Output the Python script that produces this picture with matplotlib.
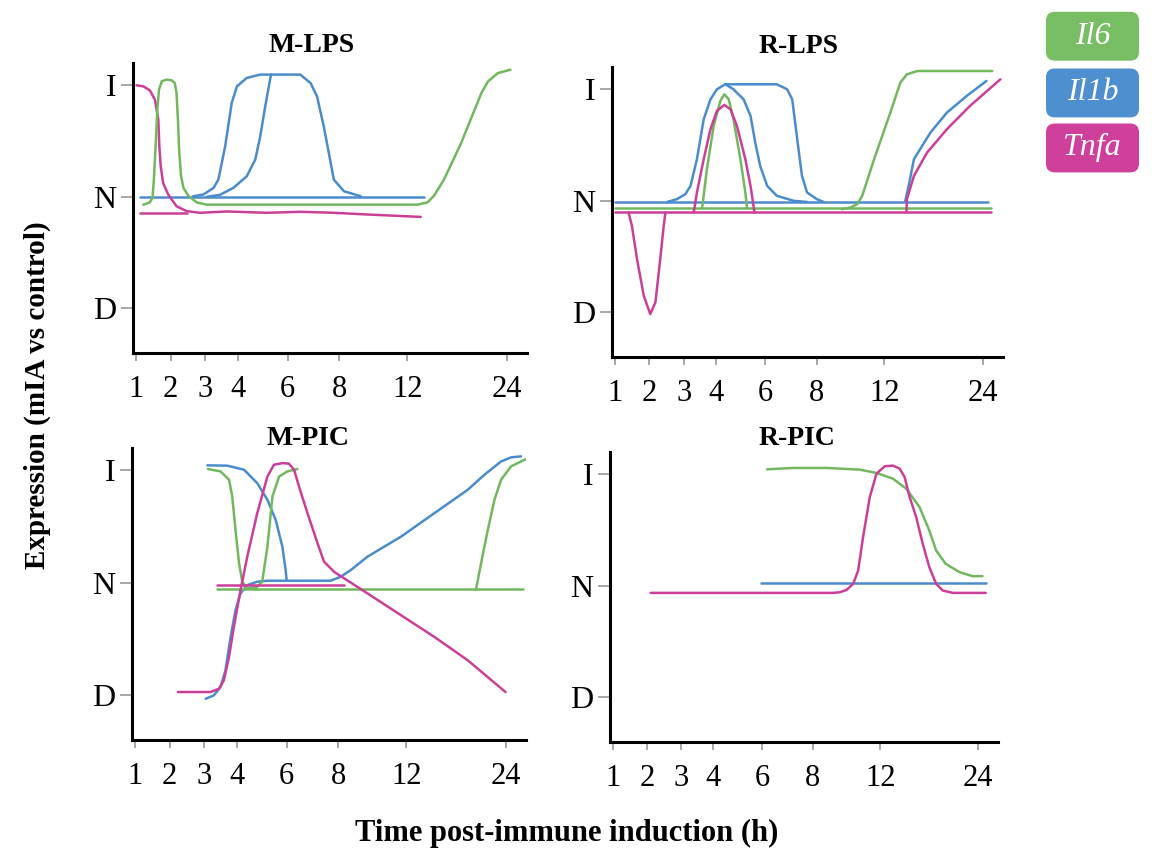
import numpy as np
import matplotlib.pyplot as plt
from matplotlib.patches import FancyBboxPatch

plt.rcParams['font.family'] = ['Liberation Serif', 'DejaVu Serif']

GREEN = '#72b85f'
BLUE = '#4a8ccc'
PINK = '#cc3f98'

HOURS = [1, 2, 3, 4, 6, 8, 12, 24]
LEVELS = [-1, 0, 1]
LEVEL_LABELS = ['D', 'N', 'I']
GENES = ['Il6', 'Il1b', 'Tnfa']

# the time axis of the schematic is not linear, this is its spacing
SCALE_H = [0, 1, 2, 3, 4, 6, 8, 12, 24, 48]
SCALE_P = [-1, 0, 1, 2.02, 2.97, 4.43, 5.94, 7.94, 10.86, 16.7]

# ---- M-LPS ----
mlps_il6_x = [1.2, 1.39, 1.47, 1.51, 1.56, 1.61, 1.66, 1.74, 1.88, 2.03, 2.12, 2.17, 2.21, 2.25, 2.30,
              2.37, 2.51, 2.75, 3.04, 13.2, 14.4, 15.2, 16.4, 18.45, 20.9, 21.7, 22.9, 24.4]
mlps_il6_y = [-0.07, -0.05, -0.009, 0.155, 0.454, 0.782, 0.961, 1.036, 1.051, 1.045, 1.021, 0.931, 0.693,
              0.394, 0.185, 0.08, 0.01, -0.05, -0.07, -0.07, -0.05, 0.01, 0.155, 0.48, 0.93, 1.035, 1.11,
              1.14]
mlps_il1b_base_x = [1.1, 14.0]
mlps_il1b_base_y = [0, 0]
mlps_il1b_a_x = [2.65, 2.94, 3.25, 3.40, 3.61, 3.81, 3.97, 4.36, 4.90, 5.44, 6.49, 6.89, 7.14, 7.40, 7.67,
                 7.79, 8.28, 9.26]
mlps_il1b_a_y = [0.006, 0.021, 0.08, 0.155, 0.454, 0.84, 0.99, 1.066, 1.096, 1.096, 1.096, 1.02, 0.90, 0.633,
                 0.304, 0.155, 0.05, 0.006]
mlps_il1b_b_x = [3.04, 3.45, 3.86, 4.36, 4.70, 4.90, 5.10, 5.33]
mlps_il1b_b_y = [0, 0.018, 0.08, 0.185, 0.334, 0.543, 0.812, 1.096]
mlps_tnfa_base_x = [1.1, 2.46]
mlps_tnfa_base_y = [-0.143, -0.143]
mlps_tnfa_x = [1.0, 1.2, 1.39, 1.54, 1.64, 1.67, 1.71, 1.78, 1.93, 2.17, 2.46, 2.84, 3.66, 5.16, 6.49,
               7.79, 9.64, 13.6]
mlps_tnfa_y = [1.0, 0.991, 0.955, 0.872, 0.693, 0.454, 0.275, 0.125, 0.021, -0.084, -0.128, -0.143, -0.131,
               -0.143, -0.134, -0.143, -0.158, -0.18]

# ---- R-LPS ----
rlps_il1b_base_x = [1.0, 24.6]
rlps_il1b_base_y = [-0.01, -0.01]
rlps_il1b_wide_x = [2.52, 2.80, 3.05, 3.21, 3.41, 3.62, 3.83, 4.04, 4.38, 4.85, 6.45, 6.85, 7.05, 7.23,
                    7.43, 7.63, 8.02, 8.42]
rlps_il1b_wide_y = [-0.01, 0.015, 0.06, 0.134, 0.373, 0.731, 0.91, 1.0, 1.045, 1.045, 1.045, 1.0, 0.91,
                    0.582, 0.224, 0.075, 0.015, -0.01]
rlps_il1b_narrow_x = [4.38, 4.71, 5.12, 5.40, 5.59, 5.79, 6.07, 6.45, 7.11, 7.63]
rlps_il1b_narrow_y = [1.045, 1.0, 0.91, 0.761, 0.522, 0.313, 0.134, 0.045, 0, -0.01]
rlps_il1b_late_x = [14.55, 14.96, 15.6, 17.6, 19.6, 22.0, 24.4]
rlps_il1b_late_y = [0, 0.134, 0.373, 0.612, 0.791, 0.94, 1.075]
rlps_il6_base_x = [1.0, 24.9]
rlps_il6_base_y = [-0.066, -0.066]
rlps_il6_peak_x = [3.57, 3.72, 3.93, 4.18, 4.34, 4.52, 4.71, 4.99, 5.19, 5.26]
rlps_il6_peak_y = [-0.066, 0.284, 0.672, 0.896, 0.955, 0.91, 0.731, 0.373, 0.075, -0.066]
rlps_il6_late_x = [9.5, 10.0, 10.4, 10.7, 11.4, 12.74, 13.95, 14.75, 16.0, 17.2, 25.1]
rlps_il6_late_y = [-0.075, -0.06, -0.03, 0.045, 0.373, 0.791, 1.06, 1.134, 1.164, 1.164, 1.164]
rlps_tnfa_base_x = [1.0, 24.9]
rlps_tnfa_base_y = [-0.104, -0.104]
rlps_tnfa_dip_x = [1.39, 1.49, 1.64, 1.84, 2.03, 2.18, 2.32, 2.42, 2.47]
rlps_tnfa_dip_y = [-0.104, -0.224, -0.522, -0.851, -1.015, -0.91, -0.522, -0.224, -0.104]
rlps_tnfa_peak_x = [3.31, 3.41, 3.62, 3.83, 4.04, 4.34, 4.59, 4.85, 5.19, 5.40, 5.56]
rlps_tnfa_peak_y = [-0.104, 0.075, 0.373, 0.642, 0.806, 0.86, 0.82, 0.672, 0.373, 0.134, -0.104]
rlps_tnfa_late_x = [14.7, 14.75, 15.6, 17.2, 19.6, 22.4, 26.1]
rlps_tnfa_late_y = [-0.09, 0.015, 0.224, 0.433, 0.642, 0.851, 1.09]

# ---- M-PIC ----
mpic_il1b_down_x = [3.09, 3.71, 4.29, 4.82, 5.23, 5.56, 5.83, 5.96, 6.00]
mpic_il1b_down_y = [1.045, 1.042, 1.006, 0.887, 0.738, 0.56, 0.321, 0.113, 0.024]
mpic_il1b_ramp_x = [6.00, 7.71, 8.16, 8.74, 9.72, 11.68, 15.36, 19.38, 21.39, 23.4, 24.6, 25.8]
mpic_il1b_ramp_y = [0.018, 0.018, 0.054, 0.113, 0.232, 0.41, 0.619, 0.827, 0.961, 1.08, 1.116, 1.125]
mpic_il1b_rise_x = [3.04, 3.29, 3.50, 3.65, 3.81, 3.96, 4.15, 4.42, 4.82, 5.23, 6.00]
mpic_il1b_rise_y = [-1.033, -1.003, -0.929, -0.78, -0.482, -0.244, -0.095, -0.021, 0.009, 0.018, 0.018]
mpic_il6_base_x = [3.38, 26.0]
mpic_il6_base_y = [-0.06, -0.06]
mpic_il6_down_x = [3.11, 3.50, 3.76, 3.86, 3.96, 4.09, 4.22, 4.42, 4.82]
mpic_il6_down_y = [1.012, 0.991, 0.917, 0.768, 0.47, 0.173, 0.009, -0.05, -0.06]
mpic_il6_up_x = [4.29, 4.82, 5.02, 5.23, 5.43, 5.70, 6.03, 6.42]
mpic_il6_up_y = [-0.06, -0.036, 0.009, 0.321, 0.768, 0.946, 0.991, 1.012]
mpic_il6_late_x = [20.38, 20.99, 21.8, 22.6, 23.4, 24.6, 26.4]
mpic_il6_late_y = [-0.06, 0.173, 0.47, 0.738, 0.917, 1.036, 1.101]
mpic_tnfa_base_x = [3.38, 8.35]
mpic_tnfa_base_y = [-0.021, -0.021]
mpic_tnfa_x = [2.24, 3.19, 3.45, 3.60, 3.76, 3.91, 4.15, 4.42, 4.82, 5.23, 5.49, 5.83, 6.09, 6.29, 6.48,
               6.81, 7.20, 7.45, 7.84, 8.35, 9.72, 11.68, 15.36, 19.38, 23.93]
mpic_tnfa_y = [-0.973, -0.973, -0.943, -0.869, -0.66, -0.393, -0.065, 0.232, 0.619, 0.946, 1.05, 1.065,
               1.06, 1.006, 0.857, 0.619, 0.351, 0.188, 0.098, 0.039, -0.095, -0.289, -0.482, -0.69, -0.973]

# ---- R-PIC ----
rpic_il6_x = [6.19, 7.23, 8.82, 10.79, 11.78, 13.56, 15.19, 16.8, 18.0, 18.84, 20.0, 21.7, 23.3, 24.5]
rpic_il6_y = [1.045, 1.057, 1.057, 1.042, 1.012, 0.961, 0.871, 0.707, 0.497, 0.317, 0.198, 0.123, 0.087,
              0.087]
rpic_il1b_x = [5.96, 24.9]
rpic_il1b_y = [0.024, 0.024]
rpic_tnfa_x = [2.11, 9.21, 9.60, 10.0, 10.39, 10.69, 10.98, 11.38, 11.78, 12.55, 13.56, 14.38, 14.98, 15.6,
               16.4, 17.2, 18.0, 18.84, 19.65, 20.9, 24.9]
rpic_tnfa_y = [-0.063, -0.063, -0.057, -0.036, 0.018, 0.138, 0.437, 0.796, 1.006, 1.072, 1.078, 1.051,
               0.976, 0.796, 0.617, 0.377, 0.168, 0.018, -0.042, -0.063, -0.063]


def fwd(h):
    return np.interp(h, SCALE_H, SCALE_P)


def inv(p):
    return np.interp(p, SCALE_P, SCALE_H)


panels = [
    ('M-LPS', [0.1155, 0.5842, 0.342, 0.3416], (0.452, 1.038), [
        (mlps_il1b_base_x, mlps_il1b_base_y, BLUE),
        (mlps_il1b_a_x, mlps_il1b_a_y, BLUE),
        (mlps_il1b_b_x, mlps_il1b_b_y, BLUE),
        (mlps_tnfa_base_x, mlps_tnfa_base_y, PINK),
        (mlps_tnfa_x, mlps_tnfa_y, PINK),
        (mlps_il6_x, mlps_il6_y, GREEN),
    ]),
    ('R-LPS', [0.5312, 0.5795, 0.3394, 0.3416], (0.478, 1.048), [
        (rlps_il1b_base_x, rlps_il1b_base_y, BLUE),
        (rlps_il1b_wide_x, rlps_il1b_wide_y, BLUE),
        (rlps_il1b_narrow_x, rlps_il1b_narrow_y, BLUE),
        (rlps_il1b_late_x, rlps_il1b_late_y, BLUE),
        (rlps_il6_base_x, rlps_il6_base_y, GREEN),
        (rlps_il6_peak_x, rlps_il6_peak_y, GREEN),
        (rlps_il6_late_x, rlps_il6_late_y, GREEN),
        (rlps_tnfa_base_x, rlps_tnfa_base_y, PINK),
        (rlps_tnfa_dip_x, rlps_tnfa_dip_y, PINK),
        (rlps_tnfa_peak_x, rlps_tnfa_peak_y, PINK),
        (rlps_tnfa_late_x, rlps_tnfa_late_y, PINK),
    ]),
    ('M-PIC', [0.1146, 0.1284, 0.342, 0.344], (0.447, 1.01), [
        (mpic_il1b_down_x, mpic_il1b_down_y, BLUE),
        (mpic_il1b_ramp_x, mpic_il1b_ramp_y, BLUE),
        (mpic_il1b_rise_x, mpic_il1b_rise_y, BLUE),
        (mpic_il6_base_x, mpic_il6_base_y, GREEN),
        (mpic_il6_down_x, mpic_il6_down_y, GREEN),
        (mpic_il6_up_x, mpic_il6_up_y, GREEN),
        (mpic_il6_late_x, mpic_il6_late_y, GREEN),
        (mpic_tnfa_base_x, mpic_tnfa_base_y, PINK),
        (mpic_tnfa_x, mpic_tnfa_y, PINK),
    ]),
    ('R-PIC', [0.5295, 0.126, 0.3368, 0.3416], (0.483, 1.024), [
        (rpic_il6_x, rpic_il6_y, GREEN),
        (rpic_il1b_x, rpic_il1b_y, BLUE),
        (rpic_tnfa_x, rpic_tnfa_y, PINK),
    ]),
]

fig = plt.figure(figsize=(11.52, 8.49), dpi=100)

for title, rect, txy, lines in panels:
    ax = fig.add_axes(rect)
    ax.set_xscale('function', functions=(fwd, inv))
    for x, y, c in lines:
        ax.plot(x, y, color=c, lw=1.8, solid_capstyle='round', solid_joinstyle='round')
    ax.set_xlim(0.9, 26.4)
    ax.set_ylim(-1.4, 1.2)
    ax.set_xticks(HOURS)
    ax.set_xticklabels([str(h) for h in HOURS])
    ax.xaxis.set_minor_locator(plt.NullLocator())
    ax.set_yticks(LEVELS)
    ax.set_yticklabels(LEVEL_LABELS)
    ax.spines['top'].set_visible(False)
    ax.spines['right'].set_visible(False)
    ax.spines['left'].set_linewidth(2.2)
    ax.spines['bottom'].set_linewidth(2.2)
    ax.tick_params(axis='x', direction='out', length=6, width=1.3, color='#a0a0a0',
                   labelsize=22, pad=10)
    ax.tick_params(axis='y', direction='out', length=9, width=1.3, color='#a0a0a0',
                   labelsize=23, pad=3)
    ax.text(txy[0], txy[1], title, transform=ax.transAxes, ha='center', va='baseline',
            fontsize=20, fontweight='bold')

fig.text(0.032, 0.534, 'Expression (mIA vs control)', rotation=90, ha='center', va='center',
         fontsize=21, fontweight='bold')
fig.text(0.492, 0.009, 'Time post-immune induction (h)', ha='center', va='baseline',
         fontsize=22, fontweight='bold')

# gene key boxes, top right
box_bottoms = [7.89, 7.323, 6.773]
box_colors = ['#78be64', '#4e8fd0', '#cf3f9c']
for name, yb, c in zip(GENES, box_bottoms, box_colors):
    box = FancyBboxPatch((10.467, yb), 0.916, 0.475, boxstyle='round,pad=0,rounding_size=0.08',
                         transform=fig.dpi_scale_trans, facecolor=c, edgecolor=c, lw=1)
    fig.patches.append(box)
    fig.text(10.925 / 11.52, (yb + 0.2375) / 8.49, name, ha='center', va='center', color='white',
             fontsize=23, fontstyle='italic')

fig.savefig('out.png', dpi=100)
